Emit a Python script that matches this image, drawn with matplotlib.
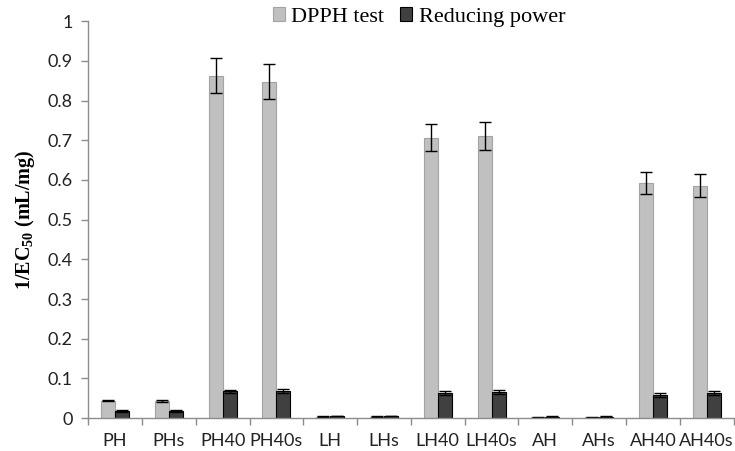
import numpy as np
import matplotlib
matplotlib.use("Agg")
import matplotlib.pyplot as plt

samples = ["PH", "PHs", "PH40", "PH40s", "LH", "LHs",
           "LH40", "LH40s", "AH", "AHs", "AH40", "AH40s"]
dpph = [0.044, 0.043, 0.863, 0.848, 0.003, 0.003,
        0.706, 0.710, 0.002, 0.002, 0.592, 0.586]
dpph_err = [0.002, 0.002, 0.045, 0.043, 0.001, 0.001,
            0.034, 0.035, 0.001, 0.001, 0.027, 0.030]
reducing = [0.018, 0.018, 0.067, 0.068, 0.005, 0.005,
            0.062, 0.066, 0.003, 0.003, 0.058, 0.062]
reducing_err = [0.002, 0.002, 0.005, 0.005, 0.001, 0.001,
                0.005, 0.005, 0.001, 0.001, 0.005, 0.005]

plt.rcParams["mathtext.default"] = "regular"

fig = plt.figure(figsize=(7.35, 4.51), dpi=100)
ax = fig.add_axes([0.12, 0.073, 0.878, 0.88])

x = np.arange(len(samples))
w = 0.26
err_kw = dict(ecolor="black", elinewidth=1.0, capsize=4, capthick=1.0)
ax.bar(x - w / 2, dpph, w, yerr=dpph_err, color="#c0c0c0",
       edgecolor="#a3a3a3", linewidth=0.8, error_kw=err_kw, label="DPPH test")
ax.bar(x + w / 2, reducing, w, yerr=reducing_err, color="#404040",
       edgecolor="black", linewidth=0.8, error_kw=err_kw, label="Reducing power")

ax.set_xlim(-0.5, len(samples) - 0.5)
ax.set_ylim(0, 1)
ax.set_yticks(np.arange(0, 1.01, 0.1))
ax.set_yticklabels(["0"] + [f"{v:.1f}" for v in np.arange(0.1, 0.95, 0.1)] + ["1"])
ax.set_xticks(x)
ax.set_xticklabels(samples)
ax.set_xticks(np.arange(-0.5, len(samples), 1.0), minor=True)

for s in ["top", "right"]:
    ax.spines[s].set_visible(False)
for s in ["left", "bottom"]:
    ax.spines[s].set_color("#8c8c8c")
    ax.spines[s].set_linewidth(1.0)

ax.tick_params(axis="x", which="major", length=0, pad=11)
ax.tick_params(axis="x", which="minor", length=5, color="#8c8c8c", width=1)
ax.tick_params(axis="y", length=5, color="#8c8c8c", width=1, pad=6)
for lbl in ax.get_xticklabels() + ax.get_yticklabels():
    lbl.set_fontfamily("Lato")
    lbl.set_fontsize(13)
    lbl.set_color("#222222")

ax.set_ylabel("1/EC$_{50}$ (mL/mg)", family="Liberation Serif",
              fontweight="bold", fontsize=14.5, labelpad=8)

fig.legend(loc="center", bbox_to_anchor=(0.57, 0.962), ncol=2, frameon=False,
           prop={"family": "Liberation Serif", "size": 16},
           handlelength=0.55, handleheight=0.55, handletextpad=0.3,
           columnspacing=0.7, borderpad=0)

fig.savefig("out.png", dpi=100)
